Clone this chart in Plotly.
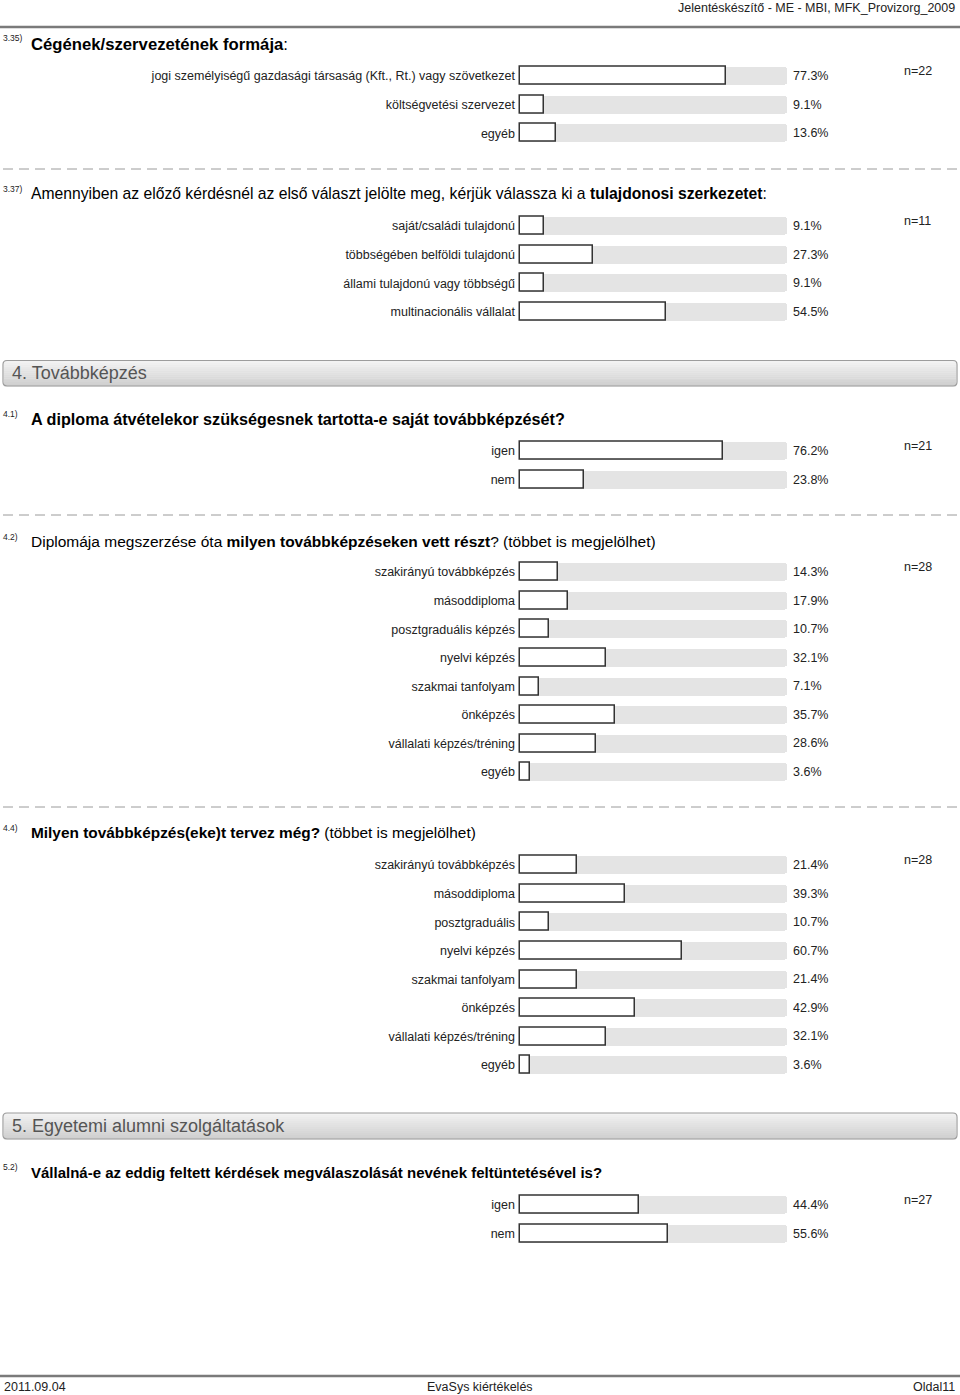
import plotly.graph_objects as go

W, H = 960, 1395
FONT = "Liberation Sans, Arial, sans-serif"

# ---------------- data ----------------
q335_labels = ["jogi személyiségű gazdasági társaság (Kft., Rt.) vagy szövetkezet",
               "költségvetési szervezet", "egyéb"]
q335_values = [77.3, 9.1, 13.6]
q335_n = 22

q337_labels = ["saját/családi tulajdonú", "többségében belföldi tulajdonú",
               "állami tulajdonú vagy többségű", "multinacionális vállalat"]
q337_values = [9.1, 27.3, 9.1, 54.5]
q337_n = 11

q41_labels = ["igen", "nem"]
q41_values = [76.2, 23.8]
q41_n = 21

q42_labels = ["szakirányú továbbképzés", "másoddiploma", "posztgraduális képzés",
              "nyelvi képzés", "szakmai tanfolyam", "önképzés",
              "vállalati képzés/tréning", "egyéb"]
q42_values = [14.3, 17.9, 10.7, 32.1, 7.1, 35.7, 28.6, 3.6]
q42_n = 28

q44_labels = ["szakirányú továbbképzés", "másoddiploma", "posztgraduális",
              "nyelvi képzés", "szakmai tanfolyam", "önképzés",
              "vállalati képzés/tréning", "egyéb"]
q44_values = [21.4, 39.3, 10.7, 60.7, 21.4, 42.9, 32.1, 3.6]
q44_n = 28

q52_labels = ["igen", "nem"]
q52_values = [44.4, 55.6]
q52_n = 27

# ---------------- layout helpers ----------------
def px(x):
    return x / W

def py(y):
    return 1 - y / H

STEP = 28.57
BAR_W = 18 / STEP
X0, X1 = 520, 787            # pixel positions of 0 % and 100 %
PPU = (X1 - X0) / 100.0      # pixels per percent
XPAD = 1.5                   # axis padding (percent units) so outlines are not clipped

questions = [
    # number, title, labels, values, n, first row centre y, number y, title y, title size
    ("3.35)", "<b>Cégének/szervezetének formája</b>:", q335_labels, q335_values, q335_n, 76, 38, 45, 16.7),
    ("3.37)", "Amennyiben az előző kérdésnél az első választ jelölte meg, kérjük válassza ki a <b>tulajdonosi szerkezetet</b>:",
     q337_labels, q337_values, q337_n, 226, 189, 194, 15.7),
    ("4.1)", "<b>A diploma átvételekor szükségesnek tartotta-e saját továbbképzését?</b>",
     q41_labels, q41_values, q41_n, 451, 414, 419, 16.2),
    ("4.2)", "Diplomája megszerzése óta <b>milyen továbbképzéseken vett részt</b>? (többet is megjelölhet)",
     q42_labels, q42_values, q42_n, 572, 537, 541, 15.5),
    ("4.4)", "<b>Milyen továbbképzés(eke)t tervez még?</b> (többet is megjelölhet)",
     q44_labels, q44_values, q44_n, 865, 828, 832, 15.4),
    ("5.2)", "<b>Vállalná-e az eddig feltett kérdések megválaszolását nevének feltüntetésével is?</b>",
     q52_labels, q52_values, q52_n, 1205, 1167, 1172, 15.0),
]

fig = go.Figure()
annotations = []
shapes = []
layout_axes = {}

for i, (num, title, labels, values, n, c0, ny, ty, tsize) in enumerate(questions):
    ax = "y" if i == 0 else f"y{i+1}"
    axkey = "yaxis" if i == 0 else f"yaxis{i+1}"
    k = len(labels)
    top = c0 - STEP / 2
    bot = c0 + (k - 1) * STEP + STEP / 2
    layout_axes[axkey] = dict(
        domain=[py(bot), py(top)],
        anchor="x",
        type="category",
        categoryorder="array",
        categoryarray=labels,
        range=[k - 0.5, -0.5],
        showgrid=False, zeroline=False, showline=False,
        ticks="", ticklabelstandoff=0,
        tickfont=dict(family=FONT, size=12.5, color="#222"),
        fixedrange=True,
    )
    # gray track
    fig.add_trace(go.Bar(
        x=[100] * k, y=labels, orientation="h", xaxis="x", yaxis=ax,
        width=BAR_W, marker=dict(color="#e4e4e4", line=dict(width=0), cornerradius=3),
        hoverinfo="skip", showlegend=False,
    ))
    # value bar
    fig.add_trace(go.Bar(
        x=values, y=labels, orientation="h", xaxis="x", yaxis=ax,
        width=BAR_W,
        marker=dict(color="white", line=dict(color="#333333", width=1.5), cornerradius=4),
        showlegend=False,
    ))
    for lab, v in zip(labels, values):
        annotations.append(dict(
            x=100, y=lab, xref="x", yref=ax, text=f"{v:.1f}%", showarrow=False,
            xanchor="left", yanchor="middle", xshift=4,
            font=dict(family=FONT, size=12.5, color="#222"),
        ))
    annotations.append(dict(
        x=px(902), y=py(c0 - 5), xref="paper", yref="paper", text=f"n={n}",
        showarrow=False, xanchor="left", yanchor="middle",
        font=dict(family=FONT, size=12.5, color="#222"),
    ))
    annotations.append(dict(
        x=px(1), y=py(ny), xref="paper", yref="paper", text=num, showarrow=False,
        xanchor="left", yanchor="middle", font=dict(family=FONT, size=8.5, color="#222"),
    ))
    annotations.append(dict(
        x=px(29), y=py(ty), xref="paper", yref="paper", text=title, showarrow=False,
        xanchor="left", yanchor="middle", font=dict(family=FONT, size=tsize, color="#000"),
    ))

# dashed separators
for yy in [169, 515, 807]:
    shapes.append(dict(type="line", xref="paper", yref="paper",
                       x0=px(3), x1=px(957), y0=py(yy), y1=py(yy),
                       line=dict(color="#9a9a9a", width=1, dash="10px,6px")))

# header / footer lines
shapes.append(dict(type="line", xref="paper", yref="paper", x0=0, x1=1,
                   y0=py(27), y1=py(27), line=dict(color="#7a7a7a", width=2.5)))
shapes.append(dict(type="line", xref="paper", yref="paper", x0=0, x1=1,
                   y0=py(1376), y1=py(1376), line=dict(color="#7a7a7a", width=2.5)))


def rounded_path(x0, y0, x1, y1, r):
    return (f"M {px(x0 + r)},{py(y0)} L {px(x1 - r)},{py(y0)} "
            f"Q {px(x1)},{py(y0)} {px(x1)},{py(y0 + r)} "
            f"L {px(x1)},{py(y1 - r)} Q {px(x1)},{py(y1)} {px(x1 - r)},{py(y1)} "
            f"L {px(x0 + r)},{py(y1)} Q {px(x0)},{py(y1)} {px(x0)},{py(y1 - r)} "
            f"L {px(x0)},{py(y0 + r)} Q {px(x0)},{py(y0)} {px(x0 + r)},{py(y0)} Z")


def section_box(y0, y1, text):
    steps = 13
    h = (y1 - y0) / steps
    for s in range(steps):
        t = s / (steps - 1)
        c = int(242 - t * (242 - 208))
        shapes.append(dict(type="rect", xref="paper", yref="paper",
                           x0=px(4), x1=px(956), y0=py(y0 + s * h), y1=py(y0 + (s + 1) * h + 0.3),
                           fillcolor=f"rgb({c},{c},{c})", line=dict(width=0), layer="below"))
    shapes.append(dict(type="path", xref="paper", yref="paper",
                       path=rounded_path(3, y0, 957, y1, 4),
                       line=dict(color="#9c9c9c", width=1.2), fillcolor="rgba(0,0,0,0)"))
    annotations.append(dict(x=px(10), y=py((y0 + y1) / 2), xref="paper", yref="paper",
                            text=text, showarrow=False, xanchor="left", yanchor="middle",
                            font=dict(family=FONT, size=18, color="#555")))


section_box(360.5, 386, "4. Továbbképzés")
section_box(1113, 1139, "5. Egyetemi alumni szolgáltatások")

# header / footer texts
annotations.append(dict(x=px(957), y=py(8), xref="paper", yref="paper",
                        text="Jelentéskészítő - ME - MBI, MFK_Provizorg_2009", showarrow=False,
                        xanchor="right", yanchor="middle", font=dict(family=FONT, size=12.5, color="#222")))
annotations.append(dict(x=px(2), y=py(1387), xref="paper", yref="paper", text="2011.09.04",
                        showarrow=False, xanchor="left", yanchor="middle",
                        font=dict(family=FONT, size=12.5, color="#222")))
annotations.append(dict(x=0.5, y=py(1387), xref="paper", yref="paper", text="EvaSys kiértékelés",
                        showarrow=False, xanchor="center", yanchor="middle",
                        font=dict(family=FONT, size=12.5, color="#222")))
annotations.append(dict(x=px(957), y=py(1387), xref="paper", yref="paper", text="Oldal11",
                        showarrow=False, xanchor="right", yanchor="middle",
                        font=dict(family=FONT, size=12.5, color="#222")))

fig.update_layout(
    width=W, height=H,
    margin=dict(l=0, r=0, t=0, b=0),
    paper_bgcolor="white", plot_bgcolor="white",
    barmode="overlay", bargap=0,
    showlegend=False,
    xaxis=dict(domain=[px(X0 - XPAD * PPU), px(X1 + XPAD * PPU)],
               range=[-XPAD, 100 + XPAD], visible=False, fixedrange=True),
    annotations=annotations,
    shapes=shapes,
    font=dict(family=FONT),
    **layout_axes,
)

fig.write_html("out.html", config={"displayModeBar": False})
